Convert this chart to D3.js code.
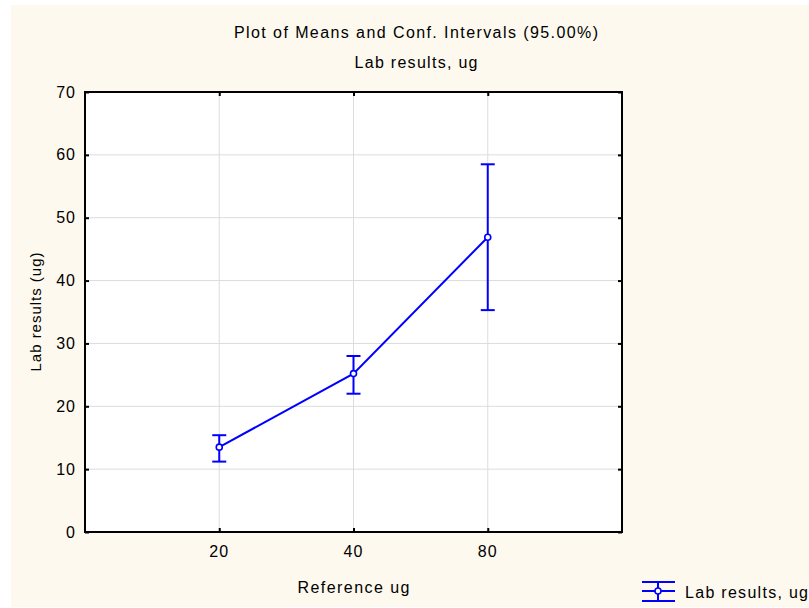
<!DOCTYPE html>
<html>
<head>
<meta charset="utf-8">
<script src="https://cdn.jsdelivr.net/npm/d3@7"></script>
<style>
  html, body { margin: 0; padding: 0; background: #fff; }
  svg { display: block; font-family: "Liberation Sans", Arial, sans-serif; }
</style>
</head>
<body>
<div id="chart"></div>
<script>
const categories = ['20', '40', '80'];
const means = [13.5, 25.2, 46.9];
const lower = [11.2, 22.0, 35.3];
const upper = [15.4, 28.0, 58.5];
const yTicks = [0, 10, 20, 30, 40, 50, 60, 70];

const title = 'Plot of Means and Conf. Intervals (95.00%)';
const subtitle = 'Lab results, ug';
const xLabel = 'Reference ug';
const yLabel = 'Lab results (ug)';
const legendLabel = 'Lab results, ug';

const width = 809;
const height = 608;
const margin = { top: 92, right: 187, bottom: 76, left: 85 };
const BLUE = '#0000ff';
const CAP = 7;

const svg = d3.select('#chart').append('svg')
  .attr('width', width).attr('height', height);

// cream panel with a thin white rim top/left
svg.append('rect').attr('x', 11).attr('y', 5)
  .attr('width', width - 11).attr('height', height - 6)
  .attr('fill', '#fdf9ee');

const x = d3.scalePoint().domain(categories)
  .range([margin.left, width - margin.right]).padding(1);
const y = d3.scaleLinear().domain([0, 70])
  .range([height - margin.bottom, margin.top]);

const x0 = margin.left, x1 = width - margin.right;
const y0 = y(0), y1 = y(70);

svg.append('rect').attr('x', x0).attr('y', y1)
  .attr('width', x1 - x0).attr('height', y0 - y1).attr('fill', '#fff');

// grid
svg.append('g').selectAll('line').data(yTicks.slice(1, -1)).join('line')
  .attr('x1', x0).attr('x2', x1).attr('y1', (d) => y(d)).attr('y2', (d) => y(d))
  .attr('stroke', '#dcdcdc').attr('stroke-width', 1);
svg.append('g').selectAll('line').data(categories).join('line')
  .attr('x1', (d) => x(d)).attr('x2', (d) => x(d)).attr('y1', y1).attr('y2', y0)
  .attr('stroke', '#dcdcdc').attr('stroke-width', 1);

// axes (ticks pointing inward on all four sides)
const fontSize = 16;
const axLeft = svg.append('g').attr('transform', `translate(${x0},0)`)
  .call(d3.axisRight(y).tickValues(yTicks).tickSize(4).tickFormat(() => ''));
const axRight = svg.append('g').attr('transform', `translate(${x1},0)`)
  .call(d3.axisLeft(y).tickValues(yTicks).tickSize(4).tickFormat(() => ''));
const axBottom = svg.append('g').attr('transform', `translate(0,${y0})`)
  .call(d3.axisTop(x).tickSize(4).tickFormat(() => ''));
const axTop = svg.append('g').attr('transform', `translate(0,${y1})`)
  .call(d3.axisBottom(x).tickSize(4).tickFormat(() => ''));
[axLeft, axRight, axBottom, axTop].forEach((g) => {
  g.select('.domain').remove();
  g.selectAll('line').attr('stroke', '#000').attr('stroke-width', 2);
});

svg.append('rect').attr('x', x0).attr('y', y1)
  .attr('width', x1 - x0).attr('height', y0 - y1)
  .attr('fill', 'none').attr('stroke', '#000').attr('stroke-width', 2);

// tick labels
svg.append('g').selectAll('text').data(yTicks).join('text')
  .attr('x', x0 - 9).attr('y', (d) => y(d)).attr('dy', '0.35em')
  .attr('text-anchor', 'end').attr('font-size', fontSize).attr('letter-spacing', 1)
  .attr('fill', '#000').text((d) => d);
svg.append('g').selectAll('text').data(categories).join('text')
  .attr('x', (d) => x(d)).attr('y', y0 + 25)
  .attr('text-anchor', 'middle').attr('font-size', fontSize).attr('letter-spacing', 1)
  .attr('fill', '#000').text((d) => d);

// titles
svg.append('text').attr('x', 416).attr('y', 38).attr('text-anchor', 'middle')
  .attr('font-size', 16).attr('textLength', 364).attr('lengthAdjust', 'spacing')
  .text(title);
svg.append('text').attr('x', 416).attr('y', 68).attr('text-anchor', 'middle')
  .attr('font-size', 16).attr('textLength', 123).attr('lengthAdjust', 'spacing')
  .text(subtitle);
svg.append('text').attr('x', (x0 + x1) / 2).attr('y', 593).attr('text-anchor', 'middle')
  .attr('font-size', 16).attr('textLength', 112).attr('lengthAdjust', 'spacing')
  .text(xLabel);
svg.append('text')
  .attr('transform', `translate(41,${(y0 + y1) / 2}) rotate(-90)`)
  .attr('text-anchor', 'middle')
  .attr('font-size', 15).attr('textLength', 119).attr('lengthAdjust', 'spacing')
  .text(yLabel);

// series
const pts = categories.map((c, i) => ({ c, m: means[i], lo: lower[i], hi: upper[i] }));
const plot = svg.append('g').attr('stroke', BLUE).attr('stroke-width', 2).attr('fill', 'none');

plot.append('path')
  .attr('d', d3.line().x((d) => x(d.c)).y((d) => y(d.m))(pts));

const bars = plot.selectAll('g.err').data(pts).join('g').attr('class', 'err');
bars.append('line')
  .attr('x1', (d) => x(d.c)).attr('x2', (d) => x(d.c))
  .attr('y1', (d) => y(d.lo)).attr('y2', (d) => y(d.hi));
bars.append('line')
  .attr('x1', (d) => x(d.c) - CAP).attr('x2', (d) => x(d.c) + CAP)
  .attr('y1', (d) => y(d.hi)).attr('y2', (d) => y(d.hi));
bars.append('line')
  .attr('x1', (d) => x(d.c) - CAP).attr('x2', (d) => x(d.c) + CAP)
  .attr('y1', (d) => y(d.lo)).attr('y2', (d) => y(d.lo));
bars.append('circle')
  .attr('cx', (d) => x(d.c)).attr('cy', (d) => y(d.m)).attr('r', 3)
  .attr('fill', '#fff').attr('stroke-width', 1.6);

// legend
const lg = svg.append('g').attr('transform', 'translate(658,591)');
const lgSym = lg.append('g').attr('stroke', BLUE).attr('stroke-width', 2);
[-9, 0, 10].forEach((dy) => {
  lgSym.append('line').attr('x1', -16).attr('x2', 17).attr('y1', dy).attr('y2', dy);
});
lgSym.append('line').attr('x1', 0).attr('x2', 0).attr('y1', -9).attr('y2', 10);
lgSym.append('circle').attr('r', 3).attr('fill', '#fff').attr('stroke-width', 1.6);
lg.append('text').attr('x', 27).attr('y', 7)
  .attr('font-size', 16).attr('textLength', 123).attr('lengthAdjust', 'spacing')
  .text(legendLabel);
</script>
</body>
</html>
